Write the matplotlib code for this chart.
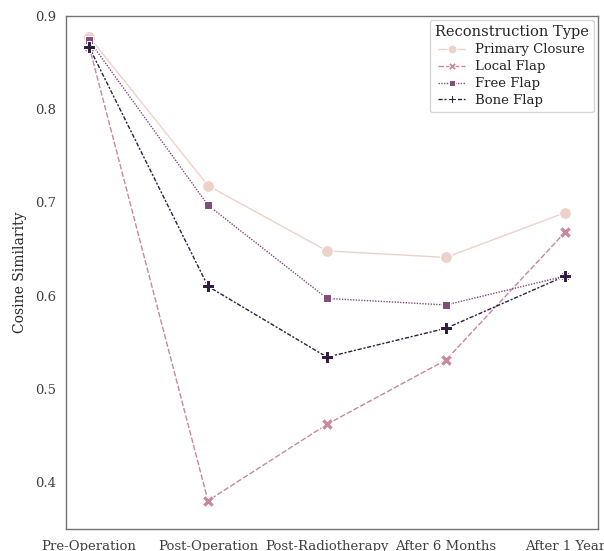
import numpy as np
import pandas as pd
import matplotlib
matplotlib.use('Agg')
import matplotlib.pyplot as plt
import seaborn as sns

# time points and cosine similarity per reconstruction type
stages = ['Pre-Operation', 'Post-Operation', 'Post-Radiotherapy', 'After 6 Months', 'After 1 Year']
primary_closure = [0.878, 0.718, 0.648, 0.641, 0.689]
local_flap = [0.868, 0.380, 0.462, 0.531, 0.668]
free_flap = [0.874, 0.697, 0.597, 0.590, 0.621]
bone_flap = [0.867, 0.610, 0.534, 0.565, 0.621]
types = ['Primary Closure', 'Local Flap', 'Free Flap', 'Bone Flap']

rows = []
for t, vals in zip(types, [primary_closure, local_flap, free_flap, bone_flap]):
    for s, v in zip(stages, vals):
        rows.append({'Stage': s, 'Cosine Similarity': v, 'Reconstruction Type': t})
df = pd.DataFrame(rows)

sns.set_theme(style='white')
plt.rcParams['font.family'] = ['DejaVu Serif']

fig = plt.figure(figsize=(6.04, 5.51), dpi=100)
ax = fig.add_axes([0.1093, 0.0399, 0.8808, 0.931])

sns.lineplot(data=df, x='Stage', y='Cosine Similarity', hue='Reconstruction Type',
             style='Reconstruction Type', markers=True, dashes=True,
             palette=sns.cubehelix_palette(4), markersize=8.5, linewidth=1.0, ax=ax)

ax.set_xlim(-0.193, 4.277)
ax.set_ylim(0.3496, 0.9)
ax.set_xlabel('')
ax.set_ylabel('Cosine Similarity', fontsize=10, labelpad=6)
ax.tick_params(axis='x', labelsize=9.5, colors='0.25', length=0, pad=8)
ax.tick_params(axis='y', labelsize=9.5, colors='0.25', length=0, pad=7)
for sp in ax.spines.values():
    sp.set_color('0.45')
    sp.set_linewidth(1.0)

leg = ax.legend(title='Reconstruction Type', loc='upper right', fontsize=9.5, title_fontsize=10.5,
                markerscale=0.75, labelspacing=0.3, borderaxespad=0.3)

fig.savefig('out.png', dpi=100)
